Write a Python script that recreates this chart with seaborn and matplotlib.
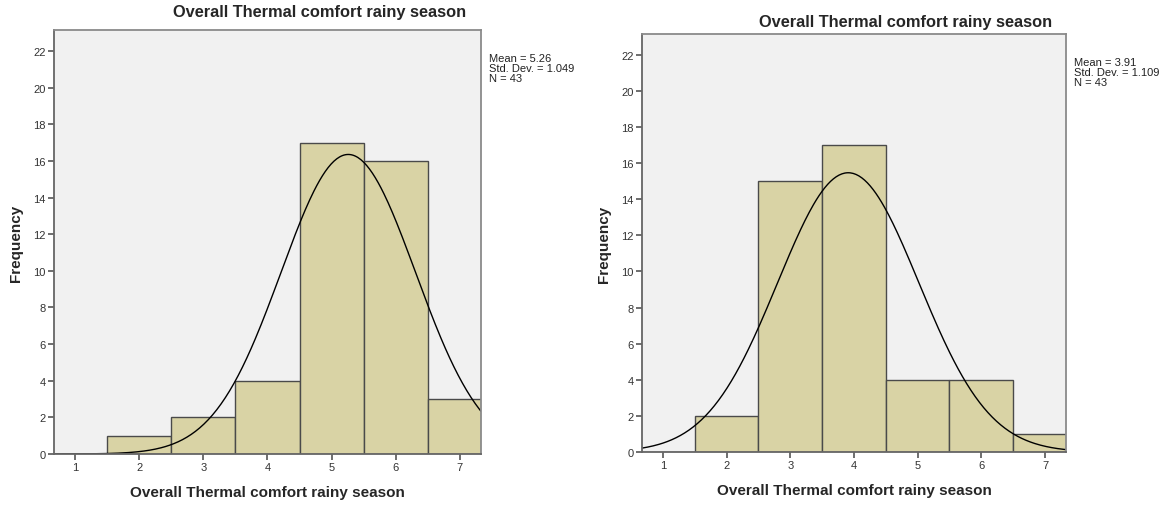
import numpy as np
import pandas as pd
import matplotlib
matplotlib.use("Agg")
import matplotlib.pyplot as plt
import seaborn as sns

# ---- data ----
scores = [1, 2, 3, 4, 5, 6, 7]
counts_left = [0, 1, 2, 4, 17, 16, 3]
counts_right = [0, 2, 15, 17, 4, 4, 1]
stats_left = ["Mean = 5.26", "Std. Dev. = 1.049", "N = 43"]
stats_right = ["Mean = 3.91", "Std. Dev. = 1.109", "N = 43"]
mean_left, sd_left = 5.26, 1.049
mean_right, sd_right = 3.91, 1.109
n_obs = 43
title = "Overall Thermal comfort rainy season"
yticks = list(range(0, 23, 2))

sns.set_style("white")
plt.rcParams['font.family'] = ['Liberation Sans', 'DejaVu Sans']

BAR = "#D9D3A5"
BG = "#F1F1F1"
EDGE = "#4A4A4A"
SPINE = "#8A8A8A"

fig = plt.figure(figsize=(11.64, 5.06), dpi=100)
ax_l = fig.add_axes([0.0464, 0.1008, 0.3668, 0.838])
ax_r = fig.add_axes([0.5515, 0.1047, 0.3643, 0.826])


def draw(ax, counts, mean, sd, stats, title_x, title_y):
    df = pd.DataFrame({"score": scores, "count": counts})
    sns.histplot(data=df, x="score", weights="count", binwidth=1, binrange=(0.5, 7.5),
                 color=BAR, alpha=1, edgecolor=EDGE, linewidth=1.0, ax=ax)
    xs = np.linspace(0.67, 7.33, 300)
    ys = n_obs * np.exp(-0.5 * ((xs - mean) / sd) ** 2) / (sd * np.sqrt(2 * np.pi))
    ax.plot(xs, ys, color="black", lw=1.0)
    ax.set_xlim(0.67, 7.33)
    ax.set_ylim(0, 23.15)
    ax.set_facecolor(BG)
    ax.set_xticks(scores)
    ax.set_yticks(yticks)
    ax.tick_params(axis="both", direction="out", length=4, width=1.2, color="#555555",
                   labelsize=8, labelcolor="#333333", pad=2, bottom=True, left=True)
    for s in ax.spines.values():
        s.set_color(SPINE)
        s.set_linewidth(1.3)
    ax.spines["left"].set_color("#666666")
    ax.spines["bottom"].set_color("#666666")
    ax.set_xlabel(title, fontsize=11, fontweight="bold", labelpad=9)
    ax.set_ylabel("Frequency", fontsize=11, fontweight="bold", labelpad=7)
    ax.text(1.018, 0.945, "\n".join(stats), transform=ax.transAxes, fontsize=8,
            va="top", ha="left", color="#222222", linespacing=1.0)
    fig.text(title_x, title_y, title, fontsize=11.8, fontweight="bold", ha="center", va="center")


draw(ax_l, counts_left, mean_left, sd_left, stats_left, 320 / 1164, 1 - 12 / 506)
draw(ax_r, counts_right, mean_right, sd_right, stats_right, 906 / 1164, 1 - 22 / 506)

fig.savefig("out.png", dpi=100)
